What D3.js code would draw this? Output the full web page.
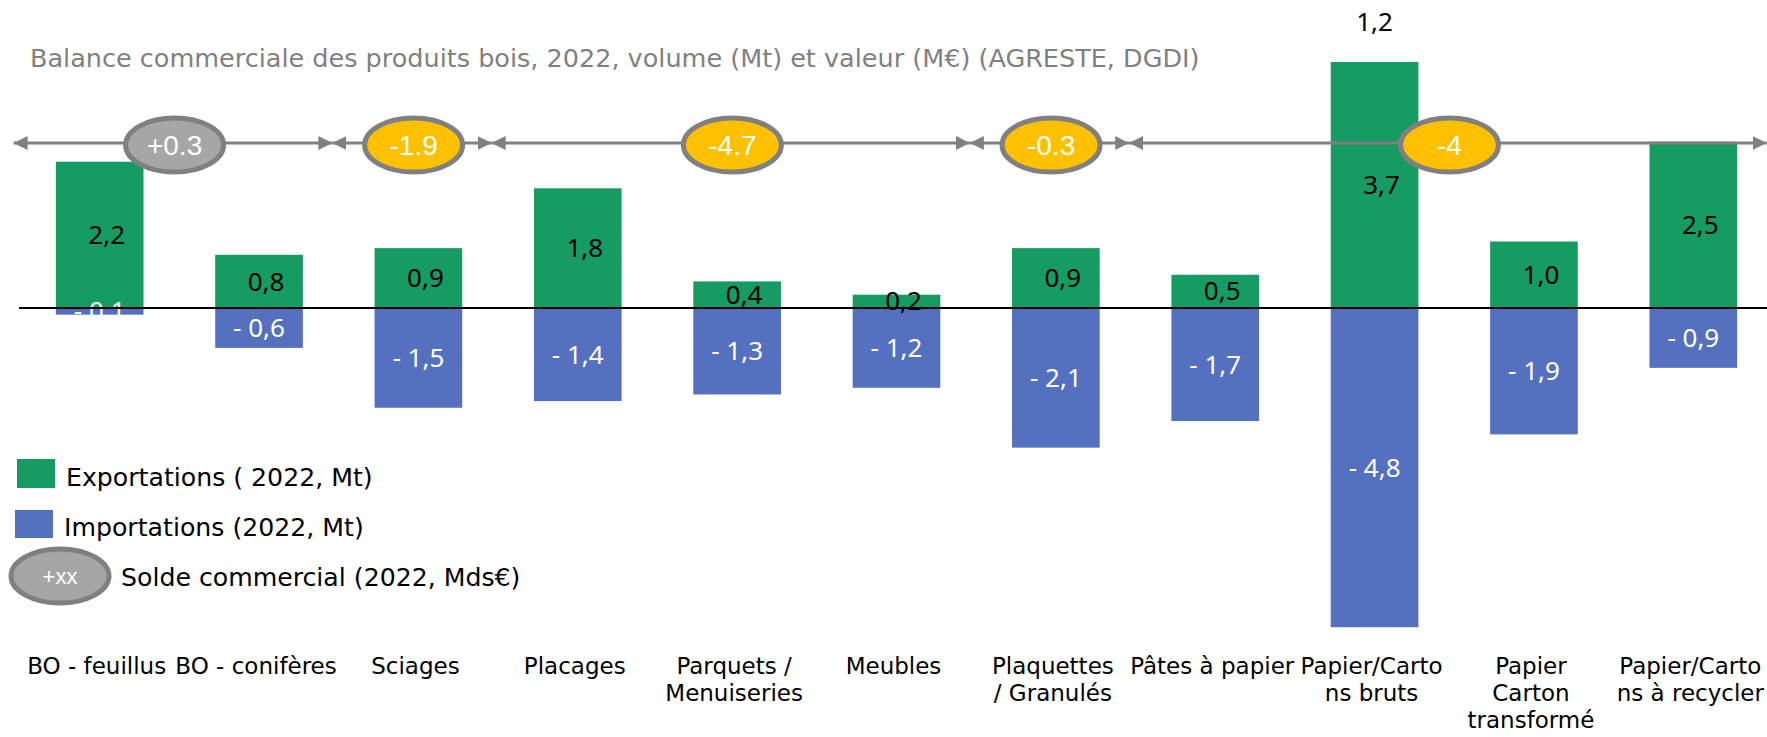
<!DOCTYPE html>
<meta charset="utf-8">
<style>
  body { margin: 0; background: #fff; }
  svg { display: block; }
  .title { font-family: "DejaVu Sans", sans-serif; font-size: 25.5px; fill: #808080; }
  .legend text { font-family: "DejaVu Sans", sans-serif; font-size: 25.2px; fill: #000; }
  .cat text { font-family: "DejaVu Sans", sans-serif; font-size: 23px; fill: #000; }
  .val { font-family: "Noto Sans", sans-serif; font-size: 26px; }
  .bubble text { font-family: "Liberation Sans", Arial, sans-serif; font-size: 28px; fill: #fff; }
</style>
<body>
<div id="chart"></div>
<script src="https://d3js.org/d3.v7.min.js"></script>
<script>
  // categories and their wrapped tick labels
  var categories = ["BO - feuillus", "BO - conifères", "Sciages", "Placages", "Parquets / Menuiseries", "Meubles",
    "Plaquettes / Granulés", "Pâtes à papier", "Papier/Cartons bruts", "Papier Carton transformé", "Papier/Cartons à recycler"];
  var tickLines = [["BO - feuillus"], ["BO - conifères"], ["Sciages"], ["Placages"], ["Parquets /", "Menuiseries"], ["Meubles"],
    ["Plaquettes", "/ Granulés"], ["Pâtes à papier"], ["Papier/Carto", "ns bruts"], ["Papier", "Carton", "transformé"], ["Papier/Carto", "ns à recycler"]];

  // volumes (Mt)
  var exportsMt = [2.2, 0.8, 0.9, 1.8, 0.4, 0.2, 0.9, 0.5, 3.7, 1.0, 2.5];
  var importsMt = [-0.1, -0.6, -1.5, -1.4, -1.3, -1.2, -2.1, -1.7, -4.8, -1.9, -0.9];

  // trade balance (Mds€) per group of categories
  var soldeLabels = ["+0.3", "-1.9", "-4.7", "-0.3", "-4"];
  var soldeValues = [0.3, -1.9, -4.7, -0.3, -4];
  var soldeFirst = [0, 2, 3, 6, 7];
  var soldeLast = [1, 2, 5, 6, 10];

  // stray label above the "Papier/Cartons bruts" bar
  var extraCat = "Papier/Cartons bruts";
  var extraValue = 1.2;

  var legendLabels = ["Exportations ( 2022, Mt)", "Importations (2022, Mt)", "Solde commercial (2022, Mds€)"];

  var width = 1767, height = 737;
  var green = "#169B62", blue = "#5470BF", grey = "#808080";

  var svg = d3.select("#chart").append("svg")
    .attr("width", width)
    .attr("height", height);

  var x = d3.scaleBand()
    .domain(categories)
    .range([20, 1773])
    .paddingInner(0.45)
    .paddingOuter(0.225);

  // index -> centre of band, used for the group arrows
  var xi = d3.scaleLinear()
    .domain([0, categories.length - 1])
    .range([x(categories[0]) + x.bandwidth() / 2, x(categories[categories.length - 1]) + x.bandwidth() / 2]);

  var y = d3.scaleLinear()
    .domain([-5, 4])
    .range([640.5, 42]);

  var fmt = function (v) { return d3.format(".1f")(Math.abs(v)).replace(".", ","); };

  svg.append("text")
    .attr("class", "title")
    .attr("x", 30)
    .attr("y", 67)
    .text("Balance commerciale des produits bois, 2022, volume (Mt) et valeur (M€) (AGRESTE, DGDI)");

  // bars
  svg.append("g").selectAll("rect")
    .data(exportsMt)
    .enter().append("rect")
    .attr("x", function (d, i) { return x(categories[i]); })
    .attr("width", x.bandwidth())
    .attr("y", function (d) { return y(d); })
    .attr("height", function (d) { return y(0) - y(d); })
    .attr("fill", green);

  svg.append("g").selectAll("rect")
    .data(importsMt)
    .enter().append("rect")
    .attr("x", function (d, i) { return x(categories[i]); })
    .attr("width", x.bandwidth())
    .attr("y", y(0))
    .attr("height", function (d) { return y(d) - y(0); })
    .attr("fill", blue);

  // value labels
  svg.append("g").selectAll("text")
    .data(importsMt)
    .enter().append("text")
    .attr("class", "val")
    .attr("x", function (d, i) { return x(categories[i]) + x.bandwidth() / 2; })
    .attr("y", function (d) { return y(d / 2); })
    .attr("dy", "0.35em")
    .attr("text-anchor", "middle")
    .attr("fill", "#fff")
    .text(function (d) { return "- " + fmt(d); });

  svg.append("g").selectAll("text")
    .data(exportsMt)
    .enter().append("text")
    .attr("class", "val")
    .attr("x", function (d, i) { return x(categories[i]) + x.bandwidth() / 2 + 7; })
    .attr("y", function (d) { return y(d / 2); })
    .attr("dy", "0.35em")
    .attr("text-anchor", "middle")
    .attr("fill", "#000")
    .text(function (d) { return fmt(d); });

  svg.append("text")
    .attr("class", "val")
    .attr("x", x(extraCat) + x.bandwidth() / 2)
    .attr("y", y(exportsMt[categories.indexOf(extraCat)]) - 40)
    .attr("dy", "0.35em")
    .attr("text-anchor", "middle")
    .text(fmt(extraValue));

  // zero line
  svg.append("line")
    .attr("x1", 19).attr("x2", width)
    .attr("y1", y(0)).attr("y2", y(0))
    .attr("stroke", "#000")
    .attr("stroke-width", 2);

  // group arrows
  var defs = svg.append("defs");
  defs.append("marker")
    .attr("id", "arr")
    .attr("viewBox", "0 0 10 10")
    .attr("refX", 10).attr("refY", 5)
    .attr("markerWidth", 14).attr("markerHeight", 15)
    .attr("markerUnits", "userSpaceOnUse")
    .attr("orient", "auto-start-reverse")
    .append("path")
    .attr("d", "M0,0L10,5L0,10Z")
    .attr("fill", grey);

  var arrowY = 143;
  svg.append("g").selectAll("line")
    .data(soldeValues)
    .enter().append("line")
    .attr("x1", function (d, i) { return xi(soldeFirst[i] - 0.54); })
    .attr("x2", function (d, i) { return xi(soldeLast[i] + 0.46); })
    .attr("y1", arrowY).attr("y2", arrowY)
    .attr("stroke", grey)
    .attr("stroke-width", 3)
    .attr("marker-start", "url(#arr)")
    .attr("marker-end", "url(#arr)");

  var bubbles = svg.append("g").selectAll("g")
    .data(soldeValues)
    .enter().append("g")
    .attr("class", "bubble")
    .attr("transform", function (d, i) {
      return "translate(" + xi((soldeFirst[i] + soldeLast[i]) / 2 - 0.03) + "," + (arrowY + 2) + ")";
    });

  bubbles.append("ellipse")
    .attr("rx", 49).attr("ry", 27)
    .attr("fill", function (d) { return d > 0 ? "#A6A6A6" : "#FFC000"; })
    .attr("stroke", grey)
    .attr("stroke-width", 5);

  bubbles.append("text")
    .attr("text-anchor", "middle")
    .attr("dy", "0.36em")
    .text(function (d, i) { return soldeLabels[i]; });

  // legend
  var legend = svg.append("g").attr("class", "legend");
  legend.append("rect").attr("x", 17).attr("y", 459).attr("width", 38).attr("height", 29).attr("fill", green);
  legend.append("rect").attr("x", 15).attr("y", 510).attr("width", 38).attr("height", 28).attr("fill", blue);
  var lb = legend.append("g").attr("class", "bubble").attr("transform", "translate(60,576)");
  lb.append("ellipse").attr("rx", 49).attr("ry", 27).attr("fill", "#A6A6A6").attr("stroke", grey).attr("stroke-width", 5);
  lb.append("text").attr("text-anchor", "middle").attr("dy", "0.36em").style("font-size", "22px").text("+xx");

  legend.selectAll("text.lt")
    .data(legendLabels)
    .enter().append("text")
    .attr("class", "lt")
    .attr("x", function (d, i) { return [66, 64, 121][i]; })
    .attr("y", function (d, i) { return [477, 527, 577][i]; })
    .attr("dy", "0.35em")
    .text(function (d) { return d; });

  // category labels
  var cat = svg.append("g").attr("class", "cat").selectAll("text")
    .data(categories)
    .enter().append("text")
    .attr("text-anchor", "middle")
    .attr("x", function (d) { return x(d) + x.bandwidth() / 2 - 3; })
    .attr("y", 666)
    .attr("dy", "0.35em");

  cat.selectAll("tspan")
    .data(function (d, i) { return tickLines[i]; })
    .enter().append("tspan")
    .attr("x", function () { return d3.select(this.parentNode).attr("x"); })
    .attr("dy", function (d, i) { return i === 0 ? "0.35em" : "27px"; })
    .text(function (d) { return d; });
</script>
</body>
